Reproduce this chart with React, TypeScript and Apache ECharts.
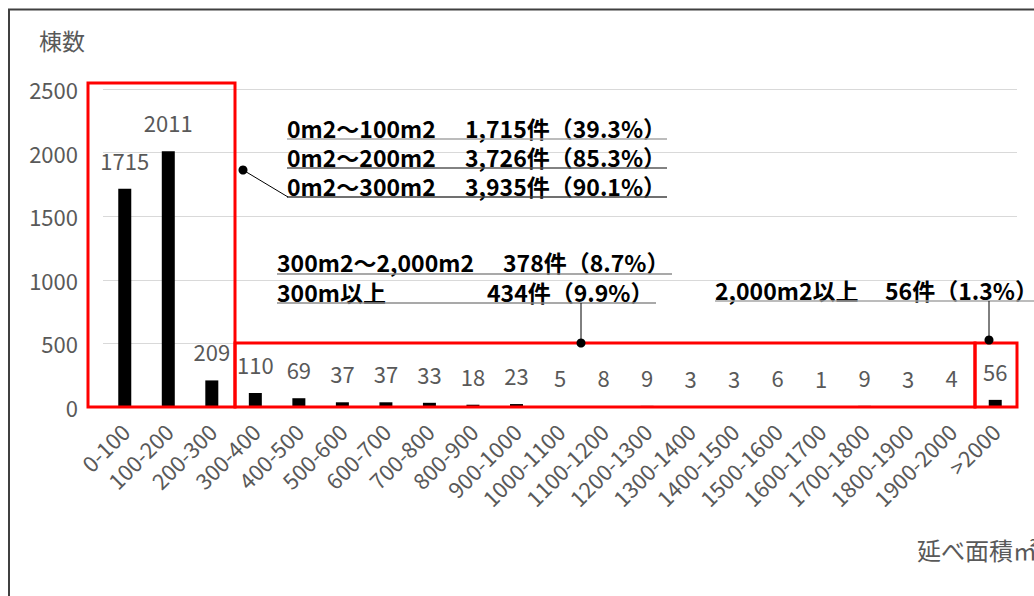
import React, { useEffect, useRef } from "react";
import * as echarts from "echarts";

const categories = [
  "0-100", "100-200", "200-300", "300-400", "400-500", "500-600", "600-700",
  "700-800", "800-900", "900-1000", "1000-1100", "1100-1200", "1200-1300",
  "1300-1400", "1400-1500", "1500-1600", "1600-1700", "1700-1800",
  "1800-1900", "1900-2000", ">2000",
];
const counts = [1715, 2011, 209, 110, 69, 37, 37, 33, 18, 23, 5, 8, 9, 3, 3, 6, 1, 9, 3, 4, 56];
const yTicks = [0, 500, 1000, 1500, 2000, 2500];

const yTitle = "棟数";
const xTitle = "延べ面積㎡";

const calloutRanges = ["0m2～100m2", "0m2～200m2", "0m2～300m2", "300m2～2,000m2", "300m以上", "2,000m2以上"];
const calloutCounts = ["1,715件（39.3%）", "3,726件（85.3%）", "3,935件（90.1%）", "378件（8.7%）", "434件（9.9%）", "56件（1.3%）"];

const FONT = "'Noto Sans CJK JP', 'Noto Sans', sans-serif";
const GREY = "#595959";

export default function App() {
  const ref = useRef<HTMLDivElement>(null);
  useEffect(() => {
    if (!ref.current) return;
    const chart = echarts.init(ref.current, undefined, { renderer: "svg" });

    const calloutText = (txt: string, x: number, y: number) => ({
      type: "text",
      x,
      y,
      z: 20,
      style: {
        text: txt,
        fill: "#000",
        font: `bold 23px ${FONT}`,
        lineHeight: 24,
        textAlign: "left",
        textVerticalAlign: "middle",
      },
    });
    const uline = (x1: number, x2: number, y: number, color: string) => ({
      type: "line",
      z: 20,
      shape: { x1, y1: y, x2, y2: y },
      style: { stroke: color, lineWidth: 1.5 },
    });
    const redBox = (x: number, y: number, w: number, h: number) => ({
      type: "rect",
      z: 15,
      shape: { x, y, width: w, height: h },
      style: { fill: "none", stroke: "#ff0000", lineWidth: 3 },
    });
    const dot = (cx: number, cy: number) => ({
      type: "circle",
      z: 21,
      shape: { cx, cy, r: 4.5 },
      style: { fill: "#000" },
    });
    const leader = (x1: number, y1: number, x2: number, y2: number) => ({
      type: "line",
      z: 20,
      shape: { x1, y1, x2, y2 },
      style: { stroke: "#000", lineWidth: 1 },
    });

    chart.setOption({
      animation: false,
      textStyle: { fontFamily: FONT },
      grid: { left: 103, right: 17, top: 89, bottom: 189 },
      xAxis: {
        type: "category",
        data: categories,
        axisLine: { show: true, lineStyle: { color: "#d9d9d9" } },
        axisTick: { show: false },
        axisLabel: {
          interval: 0,
          rotate: 45,
          color: GREY,
          fontSize: 22,
          margin: 20,
          padding: [12, 0, 0, 0],
          fontFamily: FONT,
        },
      },
      yAxis: {
        type: "value",
        min: yTicks[0],
        max: yTicks[yTicks.length - 1],
        interval: 500,
        axisLine: { show: false },
        axisTick: { show: false },
        axisLabel: { color: GREY, fontSize: 22, margin: 25, fontFamily: FONT, formatter: (v: number) => String(v) },
        splitLine: { lineStyle: { color: "#d9d9d9", width: 1 } },
      },
      series: [
        {
          type: "bar",
          data: counts,
          barWidth: 13,
          itemStyle: { color: "#000" },
          label: { show: true, position: "top", distance: 18, color: GREY, fontSize: 22, fontFamily: FONT },
        },
      ],
      graphic: [
        {
          type: "rect",
          z: 1,
          shape: { x: 9, y: 9.5, width: 1100, height: 700 },
          style: { fill: "none", stroke: "#404040", lineWidth: 2 },
        },
        { type: "text", x: 39, y: 40, z: 20, style: { text: yTitle, fill: GREY, font: `23px ${FONT}`, textAlign: "left", textVerticalAlign: "middle" } },
        { type: "text", x: 917, y: 549, z: 20, style: { text: xTitle, fill: GREY, font: `24px ${FONT}`, textAlign: "left", textVerticalAlign: "middle" } },
        redBox(88, 83, 147, 324),
        redBox(235, 343, 740, 64),
        redBox(975, 343, 42, 64),
        // group 1
        calloutText(calloutRanges[0], 287, 128),
        calloutText(calloutCounts[0], 465, 128),
        calloutText(calloutRanges[1], 287, 157),
        calloutText(calloutCounts[1], 465, 157),
        calloutText(calloutRanges[2], 287, 186),
        calloutText(calloutCounts[2], 465, 186),
        uline(287, 667, 139, "#a6a6a6"),
        uline(287, 667, 168, "#595959"),
        uline(287, 667, 197, "#404040"),
        leader(243, 170, 288, 197),
        dot(243, 170),
        // group 2
        calloutText(calloutRanges[3], 277, 262),
        calloutText(calloutCounts[3], 503, 262),
        calloutText(calloutRanges[4], 277, 292),
        calloutText(calloutCounts[4], 487, 292),
        uline(277, 672, 274, "#8c8c8c"),
        uline(277, 656, 303, "#8c8c8c"),
        leader(581, 303, 581, 343),
        dot(581, 343),
        // group 3
        calloutText(calloutRanges[5], 715, 290),
        calloutText(calloutCounts[5], 885, 290),
        uline(715, 1040, 301, "#a6a6a6"),
        leader(989, 301, 989, 340),
        dot(989, 340),
      ],
    });
    return () => chart.dispose();
  }, []);
  return (
    <div
      ref={ref}
      style={{ position: "fixed", left: 0, top: 0, width: 1034, height: 596, background: "#fff" }}
    />
  );
}
